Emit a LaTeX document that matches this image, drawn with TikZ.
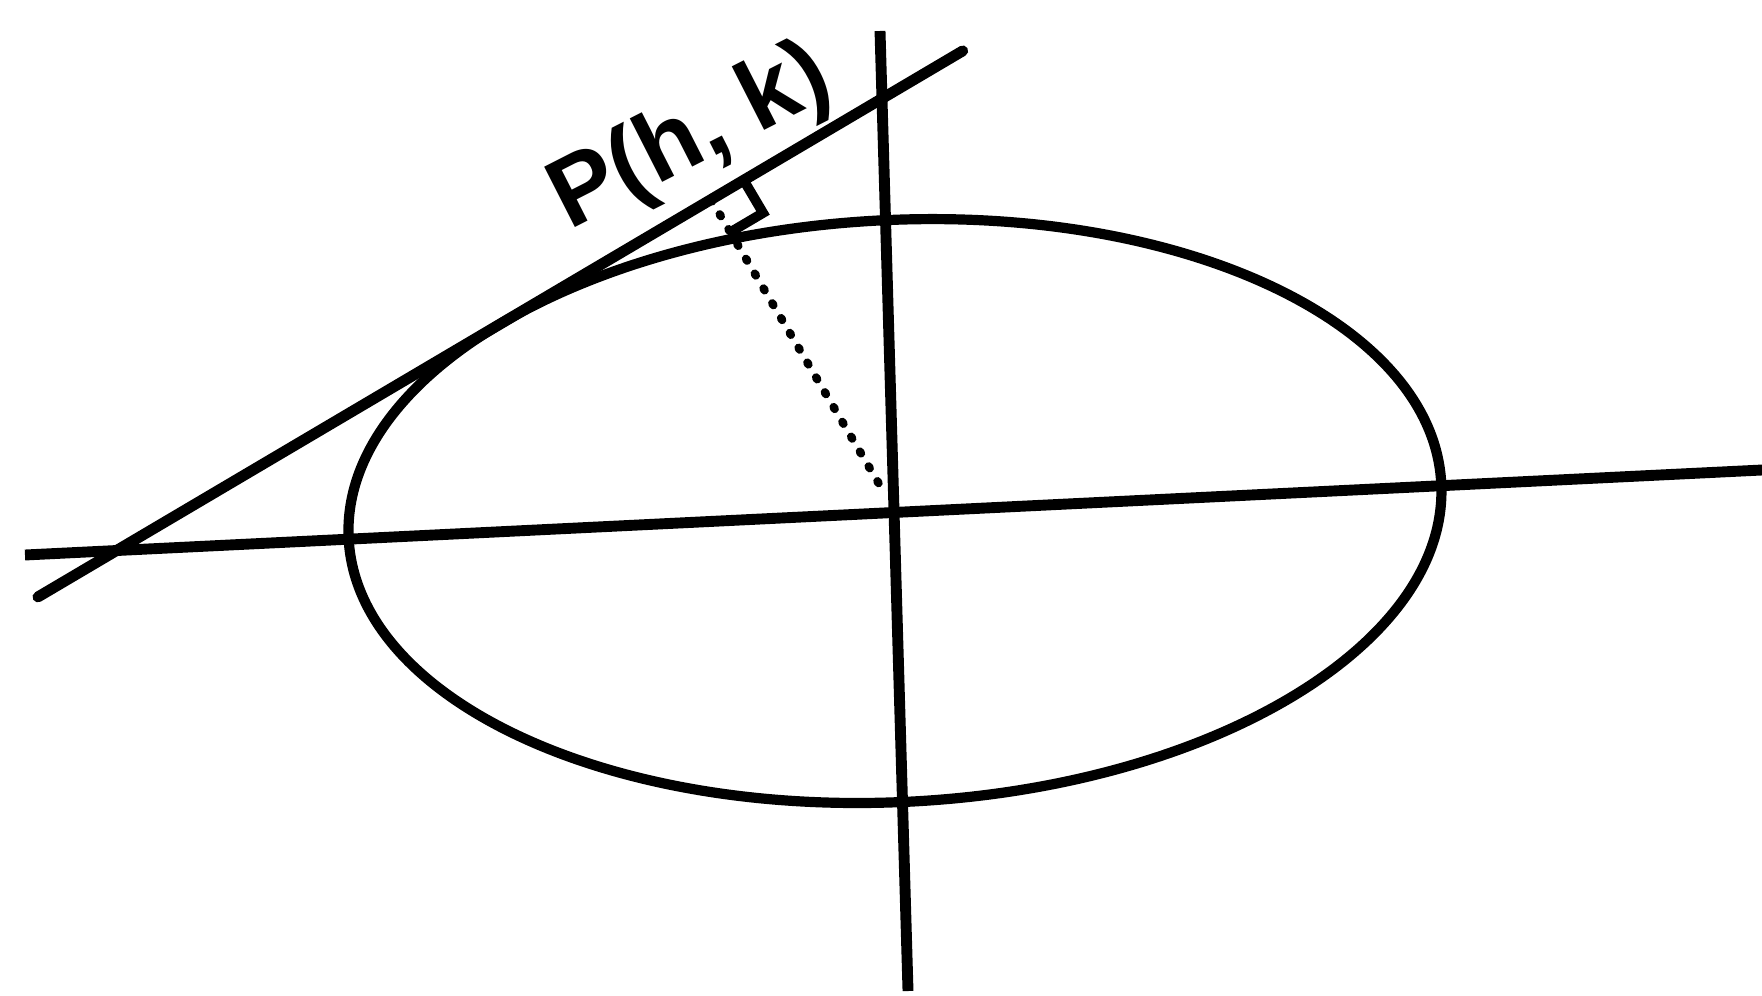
\documentclass[tikz,border=0pt]{standalone}
\usepackage{fontspec}
\setmainfont{Liberation Sans}
\usetikzlibrary{calc}
\begin{document}
\begin{tikzpicture}[
  axisline/.style={line width=3.1pt},
  curveline/.style={line width=2.9pt},
  marker/.style={line width=2.8pt},
  dotline/.style={line width=2.4pt, line cap=round, dash pattern=on 0.6pt off 4.3pt},
  labeltext/.style={font=\fontsize{28}{30}\selectfont\bfseries, inner sep=0pt}
]
\useasboundingbox (0,0) rectangle (17.62,9.95);
\coordinate (C) at (8.95,4.84);
% ellipse
\draw[curveline, rotate around={2.9:(C)}] (C) ellipse [x radius=5.47, y radius=2.91];
% axes
\coordinate (XL) at (0.25,4.40);
\coordinate (XR) at (17.62,5.25);
\coordinate (YT) at (8.80,9.64);
\coordinate (YB) at (9.08,0.04);
\draw[axisline] (XL) -- (XR);
\draw[axisline] (YT) -- (YB);
% tangent
\coordinate (T) at (5.012,6.716);
\coordinate (A) at ($(T)+(210.56:5.38)$);
\coordinate (B) at ($(T)+(30.56:5.36)$);
\draw[axisline, line cap=round] (A) -- (B);
% foot of perpendicular
\coordinate (F) at ($(A)!(C)!(B)$);
\coordinate (E) at ($(F)!0.93!(C)$);
\draw[dotline] (F) -- (E);
% right angle mark
\coordinate (S1) at ($(F)!0.38cm!(B)$);
\coordinate (S3) at ($(F)!0.38cm!(C)$);
\coordinate (S2) at ($(S1)+(S3)-(F)$);
\draw[marker] (S1) -- (S2) -- (S3);
% label
\node[labeltext, rotate=27, anchor=base] (lbl) at (7.03,8.33) {P(h, k)};
\end{tikzpicture}
\end{document}
